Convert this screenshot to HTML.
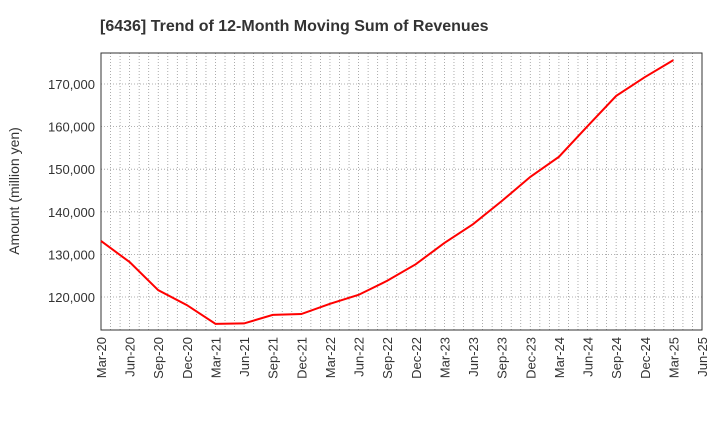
<!DOCTYPE html>
<html><head><meta charset="utf-8"><style>
body{margin:0;background:#fff;font-family:"Liberation Sans",sans-serif;}
svg text{font-family:"Liberation Sans",sans-serif;}
</style></head><body>
<svg id="chart" width="720" height="440" xmlns="http://www.w3.org/2000/svg">
<text x="100" y="31" font-size="16" font-weight="bold" fill="#333">[6436]  Trend of 12-Month Moving Sum of Revenues</text>
<text transform="translate(19,191) rotate(-90)" text-anchor="middle" font-size="14" fill="#333">Amount (million yen)</text>
<g id="grid"></g><g id="axes"></g><g id="series"></g>
</svg>
<script>
const categories=["Mar-20","Jun-20","Sep-20","Dec-20","Mar-21","Jun-21","Sep-21","Dec-21","Mar-22","Jun-22","Sep-22","Dec-22","Mar-23","Jun-23","Sep-23","Dec-23","Mar-24","Jun-24","Sep-24","Dec-24","Mar-25","Jun-25"];
const revenues=[133150,128200,121600,118100,113700,113800,115800,116000,118400,120500,123800,127700,132700,137100,142500,148200,152900,160100,167200,171600,175600];
const yTicks=[120000,130000,140000,150000,160000,170000];
const L=101,R=702,T=53,B=330,yMin=112250,yMax=177280;
const ns="http://www.w3.org/2000/svg";
const xs=i=>L+(R-L)*i/(categories.length-1);
const ys=v=>B-(v-yMin)/(yMax-yMin)*(B-T);
function mk(p,t,a){const e=document.createElementNS(ns,t);for(const k in a)e.setAttribute(k,a[k]);document.getElementById(p).appendChild(e);return e;}
// monthly vertical grid
for(let m=1;m<(categories.length-1)*3;m++){const x=L+(R-L)*m/((categories.length-1)*3);
const g=mk('grid','line',{x1:x,x2:x,y1:T,y2:B,stroke:'#999','stroke-width':0.8,'stroke-dasharray':'1,2'});
}
yTicks.forEach(v=>{const y=ys(v);
const g=mk('grid','line',{x1:L,x2:R,y1:y,y2:y,stroke:'#999','stroke-width':0.8,'stroke-dasharray':'1,2'});

const t=mk('axes','text',{x:L-6,y:y+5,'text-anchor':'end','font-size':13,fill:'#333'});t.textContent=v.toLocaleString('en-US');
});
categories.forEach((c,i)=>{const x=xs(i);
const t=mk('axes','text',{transform:`translate(${x+5},${B+7}) rotate(-90)`,'text-anchor':'end','font-size':13,fill:'#333'});t.textContent=c;
});
const f=mk('axes','rect',{x:L,y:T,width:R-L,height:B-T,fill:'none',stroke:'#333','stroke-width':1});

const line=mk('series','polyline',{points:revenues.map((v,i)=>xs(i)+','+ys(v)).join(' '),fill:'none',stroke:'#f00','stroke-width':2});

</script>
</body></html>
